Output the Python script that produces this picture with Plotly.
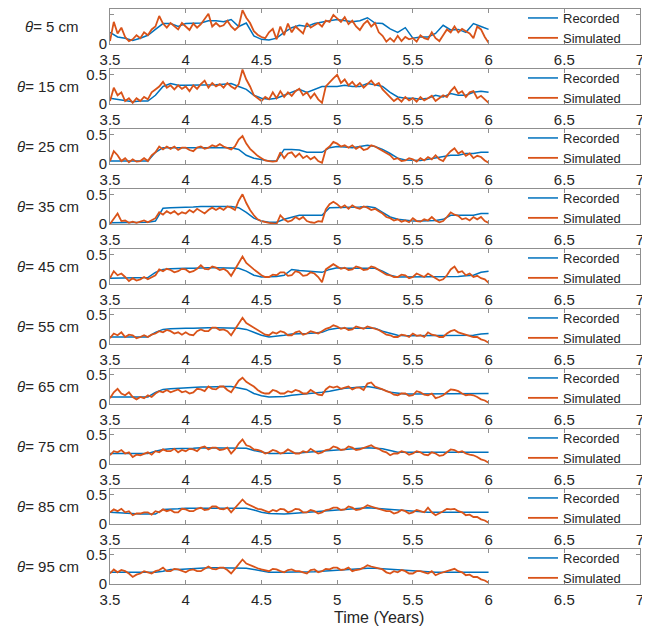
import numpy as np
import plotly.graph_objects as go

depth_labels = ["5", "15", "25", "35", "45", "55", "65", "75", "85", "95"]
x_ticks = [3.5, 4, 4.5, 5, 5.5, 6, 6.5, 7]
x_tick_text = ["3.5", "4", "4.5", "5", "5.5", "6", "6.5", "7"]
y_ticks = [0, 0.5]
y_tick_text = ["0", "0.5"]

# Simulated soil moisture (sampled every 0.025 yr from 3.5 to 6.0)
sim_05 = [0.05,0.38,0.18,0.28,0.12,0.05,0.08,0.15,0.10,0.20,
          0.15,0.25,0.30,0.48,0.35,0.28,0.36,0.30,0.25,0.36,
          0.30,0.24,0.35,0.28,0.34,0.42,0.52,0.30,0.36,0.30,
          0.32,0.40,0.30,0.24,0.30,0.58,0.45,0.36,0.22,0.16,
          0.12,0.10,0.20,0.26,0.08,0.30,0.15,0.35,0.20,0.30,
          0.24,0.18,0.36,0.28,0.32,0.36,0.30,0.40,0.38,0.50,
          0.44,0.38,0.46,0.34,0.40,0.30,0.24,0.34,0.40,0.30,
          0.36,0.20,0.14,0.04,0.10,0.04,0.14,0.05,0.12,0.08,
          0.10,0.04,0.15,0.10,0.08,0.20,0.10,0.05,0.15,0.25,
          0.20,0.30,0.20,0.26,0.22,0.18,0.10,0.30,0.25,0.12,
          0.02]
sim_15 = [0.05,0.28,0.15,0.20,0.05,0.10,0.02,0.10,0.05,0.12,
          0.08,0.20,0.25,0.30,0.38,0.28,0.32,0.25,0.32,0.26,
          0.30,0.22,0.32,0.26,0.34,0.40,0.28,0.36,0.30,0.34,
          0.28,0.36,0.30,0.26,0.34,0.59,0.42,0.30,0.15,0.10,
          0.05,0.12,0.08,0.20,0.10,0.22,0.12,0.20,0.14,0.22,
          0.26,0.15,0.20,0.10,0.18,0.08,0.02,0.30,0.38,0.44,
          0.50,0.36,0.42,0.32,0.38,0.30,0.36,0.28,0.34,0.40,
          0.32,0.36,0.25,0.18,0.12,0.05,0.10,0.04,0.12,0.06,
          0.10,0.04,0.12,0.06,0.10,0.14,0.05,0.10,0.15,0.12,
          0.22,0.29,0.18,0.22,0.12,0.20,0.22,0.10,0.14,0.08,
          0.02]
sim_25 = [0.05,0.22,0.15,0.05,0.10,0.03,0.08,0.04,0.05,0.10,
          0.05,0.15,0.20,0.30,0.25,0.30,0.26,0.30,0.24,0.28,
          0.28,0.24,0.22,0.28,0.30,0.26,0.28,0.32,0.30,0.34,
          0.30,0.28,0.25,0.30,0.42,0.48,0.35,0.26,0.20,0.14,
          0.10,0.06,0.05,0.04,0.05,0.20,0.10,0.18,0.20,0.12,
          0.18,0.10,0.14,0.08,0.12,0.05,0.02,0.25,0.30,0.38,
          0.35,0.30,0.32,0.28,0.32,0.26,0.30,0.24,0.26,0.32,
          0.30,0.26,0.22,0.18,0.15,0.08,0.10,0.05,0.06,0.10,
          0.08,0.04,0.10,0.06,0.12,0.08,0.15,0.08,0.05,0.15,
          0.22,0.27,0.18,0.22,0.14,0.18,0.10,0.14,0.12,0.06,
          0.02]
sim_35 = [0.00,0.10,0.18,0.05,0.06,0.02,0.04,0.02,0.04,0.06,
          0.03,0.06,0.10,0.20,0.16,0.22,0.18,0.22,0.16,0.20,
          0.18,0.24,0.20,0.26,0.22,0.18,0.24,0.28,0.24,0.28,
          0.24,0.30,0.28,0.24,0.40,0.51,0.36,0.24,0.15,0.08,
          0.05,0.03,0.02,0.01,0.00,0.15,0.08,0.04,0.06,0.12,
          0.08,0.12,0.05,0.03,0.02,0.05,0.04,0.25,0.34,0.38,
          0.34,0.28,0.32,0.26,0.32,0.28,0.26,0.30,0.28,0.24,
          0.26,0.22,0.18,0.12,0.10,0.06,0.08,0.04,0.06,0.03,
          0.10,0.05,0.04,0.08,0.06,0.12,0.06,0.03,0.05,0.12,
          0.20,0.16,0.14,0.08,0.10,0.06,0.12,0.08,0.12,0.05,
          0.02]
sim_45 = [0.10,0.22,0.15,0.18,0.12,0.05,0.10,0.06,0.08,0.12,
          0.08,0.12,0.15,0.25,0.22,0.26,0.24,0.20,0.22,0.26,
          0.25,0.20,0.22,0.26,0.32,0.26,0.25,0.30,0.28,0.24,
          0.26,0.22,0.14,0.25,0.35,0.47,0.36,0.30,0.25,0.20,
          0.15,0.12,0.12,0.16,0.15,0.20,0.20,0.14,0.15,0.22,
          0.20,0.14,0.15,0.20,0.18,0.12,0.03,0.25,0.30,0.34,
          0.30,0.26,0.28,0.24,0.25,0.30,0.28,0.24,0.25,0.30,
          0.28,0.24,0.20,0.16,0.15,0.12,0.12,0.16,0.15,0.10,
          0.12,0.18,0.15,0.12,0.18,0.14,0.10,0.06,0.08,0.15,
          0.25,0.30,0.20,0.22,0.15,0.18,0.12,0.14,0.10,0.08,
          0.02]
sim_55 = [0.10,0.18,0.15,0.20,0.12,0.16,0.15,0.10,0.12,0.15,
          0.12,0.16,0.18,0.22,0.20,0.24,0.22,0.18,0.20,0.16,
          0.20,0.16,0.15,0.22,0.25,0.22,0.22,0.28,0.28,0.24,
          0.25,0.22,0.15,0.25,0.35,0.45,0.36,0.32,0.28,0.24,
          0.20,0.16,0.15,0.20,0.18,0.22,0.20,0.15,0.15,0.20,
          0.22,0.16,0.18,0.22,0.20,0.18,0.22,0.26,0.28,0.32,
          0.30,0.26,0.28,0.24,0.25,0.30,0.28,0.26,0.30,0.28,
          0.25,0.24,0.20,0.16,0.15,0.12,0.12,0.16,0.15,0.12,
          0.18,0.14,0.15,0.12,0.20,0.16,0.15,0.12,0.12,0.18,
          0.22,0.24,0.20,0.18,0.15,0.14,0.12,0.12,0.08,0.06,
          0.02]
sim_65 = [0.10,0.20,0.26,0.18,0.15,0.20,0.12,0.08,0.12,0.10,
          0.15,0.12,0.18,0.22,0.20,0.24,0.20,0.22,0.25,0.20,
          0.22,0.18,0.20,0.26,0.25,0.22,0.30,0.26,0.25,0.30,
          0.30,0.24,0.20,0.30,0.40,0.45,0.38,0.34,0.30,0.24,
          0.20,0.18,0.18,0.24,0.22,0.18,0.18,0.22,0.20,0.24,
          0.22,0.18,0.18,0.24,0.20,0.16,0.15,0.25,0.30,0.28,
          0.30,0.26,0.28,0.30,0.25,0.28,0.28,0.24,0.35,0.37,
          0.30,0.28,0.25,0.22,0.20,0.16,0.15,0.18,0.18,0.14,
          0.15,0.22,0.20,0.16,0.15,0.18,0.10,0.12,0.15,0.20,
          0.25,0.24,0.22,0.18,0.15,0.16,0.15,0.12,0.08,0.06,
          0.02]
sim_75 = [0.15,0.22,0.20,0.24,0.18,0.20,0.12,0.16,0.15,0.18,
          0.20,0.16,0.22,0.20,0.25,0.22,0.22,0.26,0.20,0.24,
          0.22,0.26,0.25,0.22,0.28,0.30,0.25,0.28,0.28,0.24,
          0.25,0.28,0.18,0.25,0.35,0.42,0.32,0.30,0.25,0.24,
          0.22,0.18,0.20,0.24,0.22,0.18,0.20,0.25,0.22,0.18,
          0.18,0.22,0.20,0.26,0.22,0.18,0.20,0.24,0.25,0.30,
          0.28,0.24,0.25,0.30,0.28,0.24,0.25,0.28,0.30,0.32,
          0.28,0.26,0.22,0.20,0.15,0.18,0.18,0.22,0.20,0.16,
          0.18,0.22,0.20,0.16,0.15,0.20,0.18,0.14,0.15,0.20,
          0.25,0.24,0.20,0.22,0.18,0.16,0.15,0.12,0.08,0.06,
          0.02]
sim_85 = [0.20,0.25,0.22,0.26,0.20,0.22,0.15,0.18,0.18,0.20,
          0.20,0.16,0.22,0.20,0.25,0.22,0.24,0.20,0.20,0.26,
          0.25,0.22,0.22,0.26,0.28,0.24,0.25,0.30,0.30,0.26,
          0.25,0.28,0.20,0.28,0.35,0.42,0.35,0.32,0.30,0.26,
          0.25,0.22,0.20,0.24,0.22,0.26,0.25,0.20,0.22,0.26,
          0.25,0.20,0.20,0.24,0.22,0.18,0.20,0.24,0.25,0.28,
          0.28,0.24,0.25,0.30,0.28,0.24,0.25,0.28,0.32,0.30,
          0.28,0.26,0.25,0.22,0.22,0.18,0.20,0.24,0.22,0.18,
          0.20,0.24,0.22,0.20,0.28,0.20,0.15,0.18,0.22,0.26,
          0.25,0.26,0.22,0.20,0.15,0.16,0.12,0.12,0.08,0.06,
          0.02]
sim_95 = [0.18,0.25,0.20,0.24,0.22,0.18,0.12,0.16,0.18,0.22,
          0.20,0.18,0.22,0.24,0.28,0.22,0.22,0.26,0.25,0.22,
          0.20,0.24,0.25,0.22,0.22,0.26,0.30,0.26,0.25,0.28,
          0.28,0.24,0.18,0.26,0.35,0.42,0.35,0.32,0.30,0.27,
          0.25,0.24,0.22,0.26,0.25,0.22,0.20,0.24,0.25,0.22,
          0.22,0.20,0.18,0.24,0.25,0.20,0.22,0.26,0.25,0.28,
          0.28,0.24,0.25,0.28,0.22,0.24,0.25,0.28,0.32,0.30,
          0.28,0.26,0.25,0.20,0.18,0.22,0.20,0.24,0.22,0.18,
          0.18,0.22,0.22,0.20,0.18,0.22,0.15,0.18,0.20,0.22,
          0.25,0.26,0.22,0.20,0.15,0.16,0.12,0.12,0.08,0.06,
          0.02]

# Recorded soil moisture (sampled every 0.05 yr from 3.5 to 6.0)
rec_05 = [0.20,0.12,0.10,0.06,0.10,0.15,0.25,0.35,0.35,0.30,
          0.35,0.35,0.36,0.40,0.40,0.38,0.42,0.30,0.36,0.14,
          0.08,0.07,0.10,0.20,0.28,0.32,0.30,0.35,0.38,0.40,
          0.42,0.40,0.38,0.40,0.45,0.36,0.35,0.26,0.20,0.28,
          0.10,0.12,0.12,0.18,0.32,0.24,0.25,0.20,0.35,0.30,
          0.25]
rec_15 = [0.10,0.08,0.06,0.04,0.05,0.05,0.15,0.30,0.35,0.32,
          0.32,0.32,0.32,0.33,0.33,0.34,0.35,0.30,0.25,0.15,
          0.10,0.08,0.10,0.15,0.20,0.25,0.20,0.25,0.30,0.30,
          0.30,0.32,0.30,0.30,0.35,0.33,0.30,0.20,0.12,0.10,
          0.10,0.08,0.10,0.15,0.12,0.18,0.15,0.15,0.20,0.22,
          0.20]
rec_25 = [0.05,0.05,0.05,0.05,0.05,0.05,0.20,0.28,0.28,0.28,
          0.28,0.27,0.27,0.28,0.28,0.28,0.28,0.25,0.15,0.10,
          0.07,0.05,0.05,0.25,0.25,0.24,0.20,0.20,0.20,0.28,
          0.30,0.29,0.28,0.30,0.32,0.30,0.25,0.18,0.10,0.07,
          0.06,0.06,0.08,0.10,0.12,0.15,0.15,0.18,0.18,0.20,
          0.20]
rec_35 = [0.02,0.02,0.02,0.02,0.02,0.03,0.05,0.27,0.28,0.28,
          0.29,0.29,0.30,0.30,0.30,0.30,0.30,0.28,0.20,0.10,
          0.05,0.03,0.03,0.08,0.12,0.15,0.15,0.15,0.15,0.28,
          0.28,0.28,0.28,0.29,0.30,0.28,0.20,0.12,0.08,0.06,
          0.05,0.05,0.05,0.06,0.08,0.15,0.15,0.15,0.15,0.18,
          0.18]
rec_45 = [0.10,0.10,0.10,0.10,0.10,0.11,0.20,0.25,0.26,0.27,
          0.27,0.27,0.28,0.28,0.28,0.28,0.28,0.27,0.22,0.15,
          0.12,0.12,0.13,0.15,0.25,0.23,0.22,0.20,0.20,0.25,
          0.28,0.27,0.27,0.27,0.27,0.27,0.22,0.15,0.12,0.12,
          0.12,0.12,0.12,0.12,0.12,0.12,0.13,0.14,0.15,0.20,
          0.22]
rec_55 = [0.12,0.12,0.12,0.12,0.12,0.12,0.20,0.25,0.26,0.27,
          0.27,0.27,0.28,0.28,0.28,0.28,0.28,0.27,0.25,0.20,
          0.15,0.12,0.13,0.15,0.17,0.17,0.18,0.19,0.20,0.25,
          0.27,0.27,0.27,0.28,0.28,0.27,0.22,0.18,0.15,0.14,
          0.14,0.14,0.14,0.14,0.14,0.14,0.14,0.15,0.15,0.17,
          0.18]
rec_65 = [0.12,0.12,0.12,0.12,0.12,0.12,0.20,0.25,0.26,0.27,
          0.28,0.28,0.29,0.29,0.30,0.30,0.30,0.28,0.25,0.18,
          0.14,0.12,0.12,0.13,0.15,0.16,0.18,0.19,0.20,0.22,
          0.25,0.27,0.28,0.29,0.30,0.28,0.25,0.20,0.18,0.17,
          0.17,0.17,0.17,0.17,0.17,0.17,0.17,0.18,0.18,0.18,
          0.18]
rec_75 = [0.18,0.18,0.18,0.18,0.18,0.18,0.22,0.25,0.26,0.26,
          0.27,0.27,0.28,0.28,0.28,0.28,0.28,0.28,0.27,0.23,
          0.20,0.18,0.18,0.18,0.19,0.19,0.20,0.21,0.22,0.23,
          0.25,0.26,0.27,0.28,0.28,0.27,0.26,0.23,0.20,0.20,
          0.20,0.20,0.20,0.20,0.20,0.20,0.20,0.20,0.20,0.20,
          0.20]
rec_85 = [0.20,0.19,0.18,0.18,0.17,0.17,0.17,0.25,0.25,0.26,
          0.27,0.27,0.28,0.28,0.28,0.28,0.28,0.28,0.27,0.24,
          0.20,0.18,0.17,0.17,0.18,0.19,0.20,0.21,0.22,0.24,
          0.25,0.26,0.27,0.28,0.28,0.27,0.26,0.25,0.23,0.22,
          0.21,0.20,0.20,0.20,0.20,0.20,0.20,0.20,0.20,0.20,
          0.20]
rec_95 = [0.20,0.20,0.20,0.20,0.20,0.20,0.20,0.22,0.25,0.25,
          0.26,0.27,0.27,0.28,0.28,0.28,0.28,0.28,0.27,0.25,
          0.22,0.20,0.20,0.20,0.20,0.20,0.21,0.21,0.22,0.23,
          0.24,0.25,0.26,0.27,0.27,0.27,0.26,0.25,0.24,0.23,
          0.22,0.21,0.21,0.20,0.20,0.20,0.20,0.20,0.20,0.20,
          0.20]

simulated = [sim_05, sim_15, sim_25, sim_35, sim_45, sim_55, sim_65, sim_75, sim_85, sim_95]
recorded = [rec_05, rec_15, rec_25, rec_35, rec_45, rec_55, rec_65, rec_75, rec_85, rec_95]

# ---- layout geometry (pixels) ----
# The page body keeps an 8 px default margin, so the figure is sized and
# offset so that its contents land at the reference's page positions.
OFF = 8
W, H = 650 - OFF, 626 - OFF
ML, MR, MT, MB = 110 - OFF, 10, 1, 42
plot_w = W - ML - MR
plot_h = H - MT - MB
pitch, panel_h = 60, 35

BLUE = "#0072BD"
ORANGE = "#D95319"
AXC = "#8f8f8f"
TXT = "#262626"
FONT = "Liberation Sans, Arial, Helvetica, sans-serif"


def px_x(page_x):
    return (page_x - OFF - ML) / plot_w


def px_y(page_y):
    return 1 - (page_y - OFF - MT) / plot_h


fig = go.Figure()
layout = dict(
    width=W, height=H,
    margin=dict(l=ML, r=MR, t=MT, b=MB, autoexpand=False),
    paper_bgcolor="white", plot_bgcolor="white",
    font=dict(family=FONT, color=TXT, size=15),
    annotations=[],
)

for k in range(10):
    n = "" if k == 0 else str(k + 1)
    top = max(0.0, min(1.0, 1 - (pitch * k) / plot_h))
    bot = max(0.0, min(1.0, 1 - (pitch * k + panel_h) / plot_h))
    leg = "legend" + n
    t_sim = np.linspace(3.5, 6.0, len(simulated[k]))
    t_rec = np.linspace(3.5, 6.0, len(recorded[k]))
    fig.add_trace(go.Scatter(x=t_rec, y=recorded[k], mode="lines", name="Recorded",
                             line=dict(color=BLUE, width=1.5), xaxis="x" + n, yaxis="y" + n,
                             legend=leg, showlegend=True))
    fig.add_trace(go.Scatter(x=t_sim, y=simulated[k], mode="lines", name="Simulated",
                             line=dict(color=ORANGE, width=1.8), xaxis="x" + n, yaxis="y" + n,
                             legend=leg, showlegend=True))
    layout["xaxis" + n] = dict(
        domain=[0, 1], anchor="y" + n, range=[3.5, 7],
        tickvals=x_ticks, ticktext=x_tick_text, ticks="inside", ticklen=4,
        tickcolor=AXC, showline=True, linecolor=AXC, linewidth=1, mirror="ticks",
        showgrid=False, zeroline=False, tickfont=dict(size=15, color=TXT),
        ticklabelstandoff=2,
    )
    layout["yaxis" + n] = dict(
        domain=[bot, top], anchor="x" + n, range=[0, 0.6],
        tickvals=y_ticks, ticktext=y_tick_text, ticks="inside", ticklen=4,
        tickcolor=AXC, showline=True, linecolor=AXC, linewidth=1, mirror="ticks",
        showgrid=False, zeroline=False, tickfont=dict(size=15, color=TXT),
        ticklabelstandoff=-1,
    )
    layout[leg] = dict(
        x=px_x(523), xanchor="left",
        y=top + 6 / plot_h, yanchor="top", bgcolor="rgba(0,0,0,0)", borderwidth=0,
        font=dict(size=13, color=TXT, family=FONT), tracegroupgap=0,
        itemclick=False, itemdoubleclick=False,
    )
    layout["annotations"].append(dict(
        text="<i>θ</i>= " + depth_labels[k] + " cm", xref="paper", yref="paper",
        x=px_x(81), y=(top + bot) / 2, xanchor="right", yanchor="middle",
        showarrow=False, font=dict(size=15, color=TXT, family=FONT),
    ))

layout["annotations"].append(dict(
    text="Time (Years)", xref="paper", yref="paper",
    x=px_x(379), y=px_y(617), xanchor="center", yanchor="middle",
    showarrow=False, font=dict(size=16, color=TXT, family=FONT),
))

fig.update_layout(**layout)
fig.write_html("out.html")
